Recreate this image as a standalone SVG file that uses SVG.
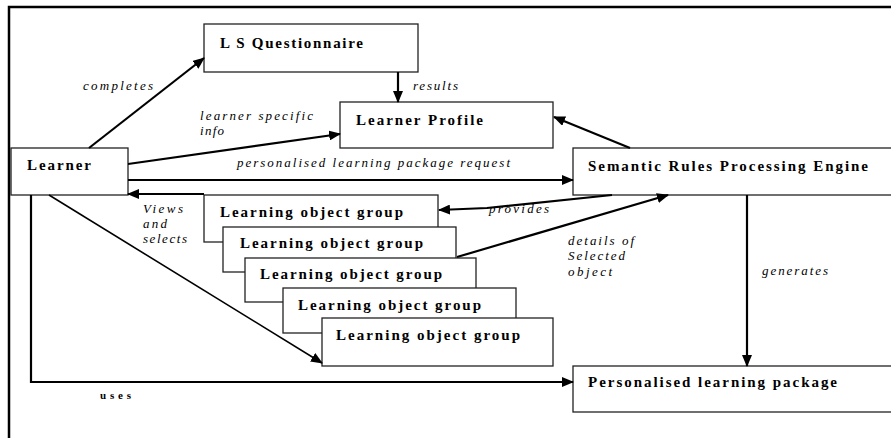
<svg xmlns="http://www.w3.org/2000/svg" width="891" height="438" viewBox="0 0 891 438">
<style>
.box{fill:#fff;stroke:#222;stroke-width:1.3}
.nt{font-family:"Liberation Serif",serif;font-weight:bold;font-size:15px;fill:#000}
.lb{font-family:"Liberation Serif",serif;font-style:italic;font-size:13px;fill:#000}
.sm{font-size:11px}
.c{fill:none;stroke:#000;stroke-width:2.2}
.thin{stroke-width:1.6}
.frame{fill:none;stroke:#000;stroke-width:2.5}
</style>
<defs>
<marker id="ah" markerUnits="userSpaceOnUse" markerWidth="12" markerHeight="10" refX="11" refY="5" orient="auto">
<path d="M0,0 L12,5 L0,10 z" fill="#000"/>
</marker>
</defs>
<rect width="891" height="438" fill="#fff"/>
<path class="frame" d="M9,438 L9,7 L891,7"/>

<g id="ls-questionnaire">
<rect class="box" x="204" y="24" width="214" height="48"/>
<text class="nt" x="220" y="48" textLength="143" lengthAdjust="spacing">L S Questionnaire</text>
</g>
<g id="learner-profile">
<rect class="box" x="340" y="102" width="213" height="46"/>
<text class="nt" x="356" y="125" textLength="127" lengthAdjust="spacing">Learner Profile</text>
</g>
<g id="learner">
<rect class="box" x="11" y="148" width="117" height="47"/>
<text class="nt" x="27" y="170" textLength="64" lengthAdjust="spacing">Learner</text>
</g>
<g id="semantic-engine">
<rect class="box" x="573" y="148" width="330" height="47"/>
<text class="nt" x="588" y="171" textLength="280" lengthAdjust="spacing">Semantic Rules Processing Engine</text>
</g>
<g id="log1">
<rect class="box" x="204" y="195" width="234" height="47"/>
<text class="nt" x="220" y="217" textLength="183" lengthAdjust="spacing">Learning object group</text>
</g>
<g id="log2">
<rect class="box" x="223" y="227" width="233" height="45"/>
<text class="nt" x="240" y="248" textLength="183" lengthAdjust="spacing">Learning object group</text>
</g>
<g id="log3">
<rect class="box" x="245" y="258" width="231" height="44"/>
<text class="nt" x="260" y="279" textLength="182" lengthAdjust="spacing">Learning object group</text>
</g>
<g id="log4">
<rect class="box" x="283" y="288" width="233" height="45"/>
<text class="nt" x="298" y="310" textLength="183" lengthAdjust="spacing">Learning object group</text>
</g>
<g id="log5">
<rect class="box" x="322" y="318" width="231" height="48"/>
<text class="nt" x="336" y="340" textLength="184" lengthAdjust="spacing">Learning object group</text>
</g>
<g id="personalised-package">
<rect class="box" x="573" y="366" width="330" height="46"/>
<text class="nt" x="588" y="387" textLength="249" lengthAdjust="spacing">Personalised learning package</text>
</g>

<g id="connectors">
<line class="c" x1="89" y1="148" x2="204" y2="58" marker-end="url(#ah)"/>
<line class="c" x1="398" y1="72" x2="398" y2="102" marker-end="url(#ah)"/>
<line class="c" x1="128" y1="164" x2="340" y2="134" marker-end="url(#ah)"/>
<line class="c" x1="128" y1="180" x2="573" y2="180" marker-end="url(#ah)"/>
<line class="c" x1="630" y1="148" x2="554" y2="117" marker-end="url(#ah)"/>
<line class="c" x1="204" y1="194" x2="128" y2="194" marker-end="url(#ah)"/>
<polyline class="c" points="612,195 487,208 439,210" marker-end="url(#ah)"/>
<line class="c" x1="457" y1="257" x2="668" y2="195" marker-end="url(#ah)"/>
<line class="c" x1="747" y1="195" x2="747" y2="366" stroke-width="3.2" marker-end="url(#ah)"/>
<line class="c thin" x1="49" y1="195" x2="322" y2="363" marker-end="url(#ah)"/>
<polyline class="c" points="31,195 31,382 573,382" marker-end="url(#ah)"/>
<text class="lb" x="83" y="90" textLength="70" lengthAdjust="spacing">completes</text>
<text class="lb" x="413" y="90" textLength="45" lengthAdjust="spacing">results</text>
<text class="lb" x="200" y="120" textLength="113" lengthAdjust="spacing">learner  specific</text>
<text class="lb" x="200" y="135" textLength="24" lengthAdjust="spacing">info</text>
<text class="lb" x="237" y="167" textLength="273" lengthAdjust="spacing">personalised learning package request</text>
<text class="lb" x="143" y="213" textLength="40" lengthAdjust="spacing">Views</text>
<text class="lb" x="143" y="228" textLength="24" lengthAdjust="spacing">and</text>
<text class="lb" x="143" y="243" textLength="44" lengthAdjust="spacing">selects</text>
<text class="lb" x="489" y="213" textLength="60" lengthAdjust="spacing">provides</text>
<text class="lb" x="568" y="245" textLength="66" lengthAdjust="spacing">details of</text>
<text class="lb" x="568" y="260" textLength="57" lengthAdjust="spacing">Selected</text>
<text class="lb" x="568" y="276" textLength="44" lengthAdjust="spacing">object</text>
<text class="lb" x="762" y="275" textLength="66" lengthAdjust="spacing">generates</text>
<text class="nt sm" x="100" y="399" textLength="31" lengthAdjust="spacing">uses</text>
</g>
</svg>
